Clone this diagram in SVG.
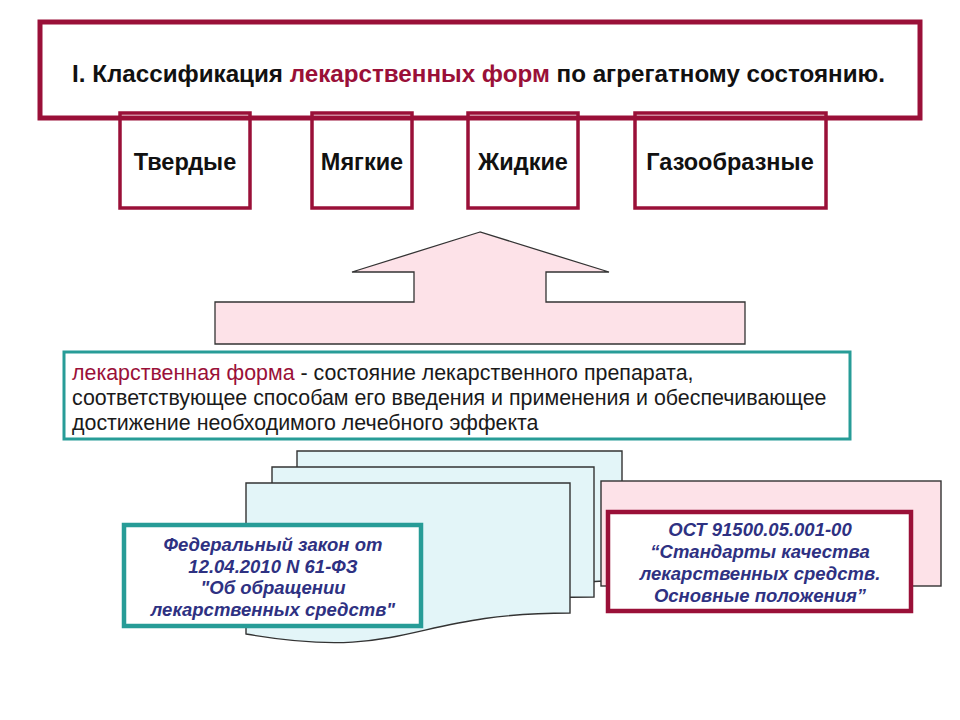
<svg xmlns="http://www.w3.org/2000/svg" width="960" height="720" viewBox="0 0 960 720">
<style>
.red{stroke:#9a1038;fill:none}
.t{font-family:"Liberation Sans",Arial,sans-serif}
.b{font-weight:bold;fill:#111}
.lbl{font-size:23.5px;text-anchor:middle}
.doc{fill:#e3f5f8;stroke:#333;stroke-width:1.4}
.nav{font-family:"Liberation Sans",Arial,sans-serif;font-weight:bold;font-style:italic;fill:#2e3182;font-size:18.5px;text-anchor:middle}
</style>
<rect width="960" height="720" fill="#fff"/>
<g id="title">
<rect x="40" y="22" width="880" height="96" fill="#fff" stroke="#9a1038" stroke-width="5"/>
<text class="t b" x="72" y="82" font-size="24.2">I. Классификация <tspan fill="#9a1038">лекарственных форм</tspan> по агрегатному состоянию.</text>
</g>
<g id="solid"><rect class="red" x="120" y="113" width="130" height="95" stroke-width="3.5"/><text class="t b lbl" x="185" y="170">Твердые</text></g>
<g id="soft"><rect class="red" x="312" y="113" width="100" height="95" stroke-width="3.5"/><text class="t b lbl" x="362" y="170">Мягкие</text></g>
<g id="liquid"><rect class="red" x="468" y="113" width="110" height="95" stroke-width="3.5"/><text class="t b lbl" x="523" y="170">Жидкие</text></g>
<g id="gas"><rect class="red" x="635" y="113" width="191" height="95" stroke-width="3.5"/><text class="t b lbl" x="730" y="170">Газообразные</text></g>
<g id="connectors">
<polygon points="480,232 352,272 414,272 414,302 215,302 215,344 745,344 745,302 546,302 546,272 609,272" fill="#fde2e8" stroke="#333" stroke-width="1.3"/>
</g>
<g id="definition">
<rect x="64" y="352" width="786" height="87" fill="#fff" stroke="#279c97" stroke-width="3"/>
<g class="t" font-size="21.4" fill="#1a1a1a">
<text x="72" y="380"><tspan fill="#9a1038">лекарственная форма</tspan> - состояние лекарственного препарата,</text>
<text x="72" y="405">соответствующее способам его введения и применения и обеспечивающее</text>
<text x="72" y="430">достижение необходимого лечебного эффекта</text>
</g>
</g>
<g id="docs">
<path class="doc" d="M297,451 H622 V581 C459.5,581 459.5,630 297,602 Z"/>
<path class="doc" d="M272,467 H594 V597 C433,597 433,646 272,618 Z"/>
<path class="doc" d="M246,483 H570 V613 C408,613 408,662 246,634 Z"/>
</g>
<g id="pinkdoc"><rect x="601" y="481" width="340" height="105" fill="#fde2e8" stroke="#333" stroke-width="1.4"/></g>
<g id="law">
<rect x="124" y="525" width="297" height="101" fill="#fff" stroke="#279c97" stroke-width="4.5"/>
<text class="nav" x="273" y="551">Федеральный закон от</text>
<text class="nav" x="273" y="573">12.04.2010 N 61-ФЗ</text>
<text class="nav" x="273" y="594">"Об обращении</text>
<text class="nav" x="273" y="616">лекарственных средств"</text>
</g>
<g id="ost">
<rect x="608" y="512" width="303" height="99" fill="#fff" stroke="#9a1038" stroke-width="4.5"/>
<text class="nav" x="760" y="536">ОСТ 91500.05.001-00</text>
<text class="nav" x="760" y="558">“Стандарты качества</text>
<text class="nav" x="760" y="580">лекарственных средств.</text>
<text class="nav" x="760" y="602">Основные положения”</text>
</g>
</svg>
